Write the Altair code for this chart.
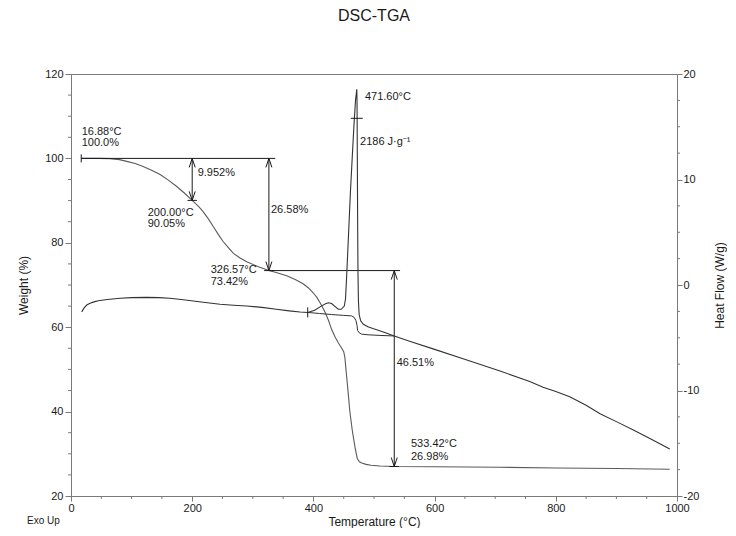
import altair as alt
import pandas as pd

FONT = "Liberation Sans"
AX = "#7a7a7a"
INK = "#1a1a1a"

# ---------------- TGA curve (weight %, left axis) ----------------
tga_temp = [16.88, 30, 45, 64, 80, 92, 106, 119, 133, 147, 160, 174, 187, 200,
            210, 218, 227, 235, 243, 251, 260, 268, 279, 290, 308, 326.57, 340,
            356, 370, 383, 392, 400, 406, 411, 416, 420, 425, 430, 436, 441, 446,
            450, 452, 454, 456, 458, 460, 464, 468.6, 472.4, 476, 479.7, 487, 495,
            510, 533.42, 600, 708, 800, 900, 988]
tga_weight = [100.0, 100.0, 100.0, 99.95, 99.7, 99.3, 98.8, 98.1, 97.2, 96.2, 94.9,
              93.4, 91.8, 90.05, 88.7, 87.4, 85.6, 83.8, 82.0, 80.3, 78.8, 77.5, 76.4,
              75.5, 74.4, 73.42, 72.9, 72.2, 71.3, 70.3, 69.3, 68.1, 67.0, 65.8, 64.5,
              63.3, 61.6, 59.5, 57.6, 56.3, 55.2, 54.2, 52.8, 49.6, 46.6, 43.5, 40.2,
              35.7, 31.6, 28.9, 28.1, 27.8, 27.5, 27.3, 27.1, 26.98, 26.92, 26.8,
              26.65, 26.5, 26.33]

# ---------------- DSC curve (heat flow W/g, right axis) ----------------
dsc_temp = [17.6, 22, 26, 31.4, 38, 45, 60, 81, 100, 125, 145, 163, 182, 202, 225,
            246, 268, 290, 315, 339, 360, 378, 390.6, 402, 413, 420, 425, 430, 436,
            441, 446, 451, 453, 455, 458, 461, 464, 467, 469.5, 471.6, 472.0, 472.5,
            473.0, 473.6, 474.3, 475.5, 478, 482.4, 490, 498, 507, 520, 533.42, 560,
            600, 647, 708, 757, 779, 800, 823, 850, 873, 900, 928, 960, 988]
dsc_flow = [-2.55, -2.15, -1.9, -1.74, -1.6, -1.49, -1.38, -1.26, -1.2, -1.17, -1.2,
            -1.26, -1.38, -1.52, -1.68, -1.83, -1.92, -1.99, -2.12, -2.3, -2.45, -2.56,
            -2.6, -2.4, -2.0, -1.78, -1.68, -1.75, -2.05, -2.3, -2.3, -2.0, -1.3, 1.0,
            4.8, 8.7, 12.0, 15.2, 17.5, 18.55, 17.5, 12.0, 6.0, 1.0, -1.5, -2.8, -3.4,
            -3.72, -3.95, -4.12, -4.28, -4.55, -4.83, -5.35, -6.1, -7.0, -8.15, -9.15,
            -9.7, -10.1, -10.6, -11.4, -12.2, -12.95, -13.75, -14.7, -15.55]

# sigmoidal integration baseline under the exotherm
base_temp = [390.6, 410, 430, 450, 463, 467, 470.3, 472, 473, 475, 479.6, 490, 510, 533.42]
base_flow = [-2.6, -2.7, -2.8, -2.88, -2.93, -3.05, -3.38, -3.85, -4.3, -4.5, -4.66,
             -4.72, -4.78, -4.83]

# ---------------- TGA step annotations ----------------
step_temp = [200.0, 326.57, 533.42]
step_top = [100.0, 100.0, 73.42]
step_bottom = [90.05, 73.42, 26.98]
level_start = [16.88, 326.57]
level_end = [337.0, 543.0]
level_weight = [100.0, 73.42]
onset_temp = [16.88]
onset_weight = [100.0]

tga_text = ["16.88°C", "100.0%", "9.952%", "200.00°C", "90.05%", "26.58%",
            "326.57°C", "73.42%", "46.51%", "533.42°C", "26.98%"]
tga_text_temp = [17.6, 17.6, 209.0, 126.5, 126.5, 330.0, 230.5, 230.5, 537.4, 561.0, 561.0]
tga_text_weight = [106.3, 103.7, 96.5, 87.0, 84.4, 87.8, 73.6, 70.8, 51.45, 32.25, 29.3]

# ---------------- DSC peak annotations ----------------
dsc_text = ["471.60°C", "2186 J·g⁻¹"]
dsc_text_temp = [485.0, 477.0]
dsc_text_flow = [17.85, 13.58]
peak_temp = [471.6]
peak_flow = [15.8]
base_start_temp = [390.6]
base_start_flow = [-2.6]

# ---------------- axis ticks ----------------
x_major = [0, 200, 400, 600, 800, 1000]
x_minor = [50, 100, 150, 250, 300, 350, 450, 500, 550, 650, 700, 750, 850, 900, 950]
w_major = [20, 40, 60, 80, 100, 120]
w_minor = [25, 30, 35, 45, 50, 55, 65, 70, 75, 85, 90, 95, 105, 110, 115]
hf_major = [-20, -10, 0, 10, 20]
hf_minor = [-17.5, -15, -12.5, -7.5, -5, -2.5, 2.5, 5, 7.5, 12.5, 15, 17.5]

# ---------------- tables ----------------
tga_df = pd.DataFrame({"T": tga_temp, "W": tga_weight})
dsc_df = pd.DataFrame({"T": dsc_temp, "H": dsc_flow})
base_df = pd.DataFrame({"T": base_temp, "H": base_flow})
step_df = pd.DataFrame({"T": step_temp, "W": step_top, "W2": step_bottom})
level_df = pd.DataFrame({"T": level_start, "T2": level_end, "W": level_weight})
onset_df = pd.DataFrame({"T": onset_temp, "W": onset_weight})
tgat_df = pd.DataFrame({"T": tga_text_temp, "W": tga_text_weight, "txt": tga_text})
dsct_df = pd.DataFrame({"T": dsc_text_temp, "H": dsc_text_flow, "txt": dsc_text})
peak_df = pd.DataFrame({"T": peak_temp, "H": peak_flow})
bstart_df = pd.DataFrame({"T": base_start_temp, "H": base_start_flow})
xminor_df = pd.DataFrame({"T": x_minor, "W": [20] * len(x_minor)})
wminor_df = pd.DataFrame({"T": [0] * len(w_minor), "W": w_minor})
hminor_df = pd.DataFrame({"T": [1000] * len(hf_minor), "H": hf_minor})
exo_df = pd.DataFrame({"txt": ["Exo Up"]})

# ---------------- scales / axes ----------------
xs = alt.Scale(domain=[0, 1000], nice=False, zero=False)
ws = alt.Scale(domain=[20, 120], nice=False, zero=False)
hs = alt.Scale(domain=[-20, 20], nice=False, zero=False)

x_axis = alt.Axis(values=x_major, title="Temperature (°C)", tickSize=5, labelPadding=1,
                  labelFlush=False, format="d", titleY=25, titleBaseline="middle")
w_axis = alt.Axis(values=w_major, orient="left", title="Weight (%)", tickSize=6,
                  labelPadding=2, labelFlush=False, titleX=-48, titleY=211,
                  titleAngle=270, titleBaseline="middle", titleAlign="center")
h_axis = alt.Axis(values=hf_major, orient="right", title="Heat Flow (W/g)", tickSize=5,
                  labelPadding=1, labelFlush=False, titleX=42, titleY=211,
                  labelExpr="replace(datum.label, '\u2212', '-')",
                  titleAngle=270, titleBaseline="middle", titleAlign="center")


def X(f="T"):
    return alt.X(f"{f}:Q", scale=xs, axis=x_axis)


def YW(f="W"):
    return alt.Y(f"{f}:Q", scale=ws, axis=w_axis)


def YH(f="H"):
    return alt.Y(f"{f}:Q", scale=hs, axis=h_axis)


UP = "M-1,3L0,0L1,3"
DOWN = "M-1,-3L0,0L1,-3"
VT = "M0,-1L0,1"
HT = "M-1,0L1,0"

# ---------------- TGA layer ----------------
tga_line = alt.Chart(tga_df).mark_line(color="#5a5a5a", strokeWidth=1.1).encode(x=X(), y=YW())
levels = alt.Chart(level_df).mark_rule(color=INK, strokeWidth=1).encode(
    x=X(), x2="T2:Q", y=YW())
steps = alt.Chart(step_df).mark_rule(color=INK, strokeWidth=1).encode(
    x=X(), y=YW(), y2="W2:Q")
heads_up = alt.Chart(step_df).mark_point(shape=UP, size=36, filled=False, color=INK,
                                         strokeWidth=1, opacity=1).encode(x=X(), y=YW())
heads_dn = alt.Chart(step_df).mark_point(shape=DOWN, size=36, filled=False, color=INK,
                                         strokeWidth=1, opacity=1).encode(x=X(), y=YW("W2"))
end_ticks = alt.Chart(step_df).mark_point(shape=HT, size=90, filled=False, color=INK,
                                          strokeWidth=1, opacity=1).encode(x=X(), y=YW("W2"))
onset_tick = alt.Chart(onset_df).mark_point(shape=VT, size=64, filled=False, color=INK,
                                            strokeWidth=1, opacity=1).encode(x=X(), y=YW())
tga_labels = alt.Chart(tgat_df).mark_text(align="left", baseline="middle", font=FONT,
                                          fontSize=11, color=INK).encode(
    x=X(), y=YW(), text="txt:N")
x_minor_ticks = alt.Chart(xminor_df).mark_point(shape="M0,0L0,1", size=36, filled=False,
                                                color=AX, strokeWidth=1, opacity=1).encode(
    x=X(), y=YW())
w_minor_ticks = alt.Chart(wminor_df).mark_point(shape="M0,0L-1,0", size=36, filled=False,
                                                color=AX, strokeWidth=1, opacity=1).encode(
    x=X(), y=YW())
exo = alt.Chart(exo_df).mark_text(align="left", baseline="middle", font=FONT, fontSize=10,
                                  color=INK).encode(
    x=alt.value(-44), y=alt.value(447), text="txt:N")

tga_layer = alt.layer(tga_line, levels, steps, heads_up, heads_dn, end_ticks, onset_tick,
                      tga_labels, x_minor_ticks, w_minor_ticks, exo)

# ---------------- DSC layer ----------------
dsc_line = alt.Chart(dsc_df).mark_line(color="#333333", strokeWidth=1.1).encode(x=X(), y=YH())
base_line = alt.Chart(base_df).mark_line(color="#333333", strokeWidth=1).encode(x=X(), y=YH())
peak_tick = alt.Chart(peak_df).mark_point(shape=HT, size=144, filled=False, color=INK,
                                          strokeWidth=1, opacity=1).encode(x=X(), y=YH())
bstart_tick = alt.Chart(bstart_df).mark_point(shape=VT, size=100, filled=False, color=INK,
                                              strokeWidth=1, opacity=1).encode(x=X(), y=YH())
dsc_labels = alt.Chart(dsct_df).mark_text(align="left", baseline="middle", font=FONT,
                                          fontSize=11, color=INK).encode(
    x=X(), y=YH(), text="txt:N")
h_minor_ticks = alt.Chart(hminor_df).mark_point(shape="M0,0L1,0", size=36, filled=False,
                                                color=AX, strokeWidth=1, opacity=1).encode(
    x=X(), y=YH())

dsc_layer = alt.layer(dsc_line, base_line, peak_tick, bstart_tick, dsc_labels, h_minor_ticks)

chart = alt.layer(tga_layer, dsc_layer).resolve_scale(y="independent").properties(
    width=606,
    height=422,
    autosize=alt.AutoSizeParams(type="none"),
    padding={"left": 63, "top": 66, "right": 50, "bottom": 32},
    title=alt.TitleParams("DSC-TGA", font=FONT, fontSize=16, fontWeight="normal",
                          color=INK, anchor="middle", frame="group", offset=44),
).configure_view(stroke=AX, strokeWidth=1).configure_axis(
    grid=False, domainColor=AX, tickColor=AX, labelColor=INK, titleColor=INK,
    labelFont=FONT, titleFont=FONT, labelFontSize=11, titleFontSize=12,
    titleFontWeight="normal",
)

chart.save("out.html", embed_options={"renderer": "svg", "actions": False})
